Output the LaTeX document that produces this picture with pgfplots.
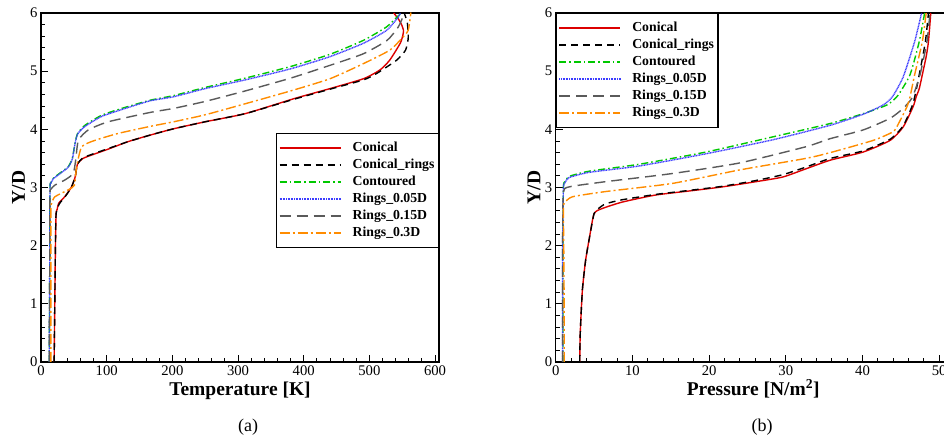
\documentclass[border=0pt]{standalone}
\usepackage{fontspec}
\setmainfont{Liberation Serif}
\usepackage{pgfplots}
\pgfplotsset{compat=1.18}
\definecolor{cred}{RGB}{220,0,0}
\definecolor{cgreen}{RGB}{0,200,0}
\definecolor{cblue}{RGB}{60,60,255}
\definecolor{cgray}{RGB}{90,90,90}
\definecolor{corange}{RGB}{255,140,0}
\pgfplotsset{
  myaxis/.style={
    scale only axis, height=349pt,
    ymin=0, ymax=6, ytick={0,1,...,6}, minor y tick num=4,
    tick align=inside, tick pos=left,
    major tick length=7pt, minor tick length=4pt,
    axis line style={line width=1.2pt},
    every tick/.style={black, line width=0.9pt},
    tick label style={font=\fontsize{14.7}{16}\selectfont},
    /pgf/number format/assume math mode=true,
    label style={font=\fontsize{19.5}{22}\selectfont\bfseries},
    ylabel={Y/D},
    xlabel style={at={(axis description cs:0.5,-0.0974)}, anchor=base},
    legend cell align=left,
    legend image code/.code={\draw[##1, line width=2pt] (0pt,0pt) -- (61pt,0pt);},
    legend style={draw=black, line width=1.2pt, fill=white,
      font=\fontsize{13.75}{16}\selectfont\bfseries,
      inner xsep=2pt, inner ysep=6pt, row sep=0pt,
      nodes={inner sep=2pt, text height=10pt, text depth=3pt},
      /tikz/every odd column/.append style={column sep=9pt}},
    every axis plot/.append style={smooth, tension=0.35},
  },
  sConical/.style={cred, line width=1.4pt, solid},
  sConRings/.style={black, line width=1.4pt, dash pattern=on 7pt off 5pt},
  sContoured/.style={cgreen, line width=1.4pt, dash pattern=on 7pt off 3pt on 1.5pt off 3pt},
  sR05/.style={cblue, line width=1.4pt, dash pattern=on 1pt off 0.6pt},
  sR15/.style={cgray, line width=1.4pt, dash pattern=on 11pt off 6pt},
  sR3/.style={corange, line width=1.4pt, dash pattern=on 10pt off 3pt on 2pt off 3pt},
}
\begin{document}
\begin{tikzpicture}[x=1pt,y=1pt]
\useasboundingbox (0,0) rectangle (944,441);
\begin{axis}[myaxis, at={(41pt,79pt)}, anchor=south west, width=398pt,
  xmin=0, xmax=606, xtick={0,100,...,600}, minor x tick num=4,
  xlabel={Temperature [K]},
  ylabel style={at={(axis description cs:-0.0402,0.5)}, anchor=base},
  legend style={at={(1,0.657)}, anchor=north east}]
\addplot[sConical] coordinates {(20,0) (21,1.0) (22,2.0) (23,2.55) (24.5,2.62) (27,2.73) (36,2.84) (46,3.0) (52,3.18) (55.5,3.40) (64,3.50) (80,3.57) (100,3.65) (133,3.79) (166,3.90) (202,4.01) (250,4.13) (311,4.27) (386,4.53) (440,4.70) (491,4.87) (516,5.02) (531,5.19) (547,5.48) (551,5.62) (552,5.70) (549,5.80) (544,5.90) (537,6.0)};
\addlegendentry{Conical}
\addplot[sConRings] coordinates {(20,0) (21,1.0) (22,2.0) (23,2.55) (28,2.72) (36,2.83) (46,3.0) (52,3.18) (55.5,3.40) (64,3.51) (80,3.58) (100,3.66) (133,3.79) (166,3.90) (202,4.01) (250,4.13) (311,4.27) (386,4.52) (440,4.69) (491,4.85) (511,4.96) (541.6,5.19) (555,5.36) (559,5.55) (559,5.65) (557.7,5.84) (553,6.0)};
\addlegendentry{Conical\_rings}
\addplot[sContoured] coordinates {(12.5,0) (13,1) (13.5,2) (13.7,3.0) (15,3.08) (18.8,3.16) (31.5,3.27) (41.6,3.36) (47.7,3.50) (51.8,3.76) (55.8,3.93) (67,4.07) (92,4.24) (123,4.36) (166,4.50) (202,4.58) (250,4.72) (311,4.88) (380,5.08) (440,5.29) (491,5.53) (526,5.76) (542,5.93) (549,6.0)};
\addlegendentry{Contoured}
\addplot[sR05] coordinates {(12.5,0) (13,1) (13.5,2) (13.7,3.0) (15,3.07) (18.8,3.15) (31.5,3.26) (41.6,3.35) (47.7,3.49) (51.8,3.75) (55.8,3.92) (67,4.05) (92,4.22) (123,4.34) (166,4.49) (202,4.56) (250,4.70) (311,4.85) (380,5.04) (440,5.25) (491,5.48) (526,5.70) (544,5.93) (547,6.0)};
\addlegendentry{Rings\_0.05D}
\addplot[sR15] coordinates {(12.5,0) (13,1) (13.5,2) (13.7,2.9) (15,2.97) (21,3.04) (36.5,3.13) (49,3.24) (52.8,3.47) (56.9,3.81) (72,3.99) (102.5,4.13) (166,4.29) (202,4.36) (250,4.48) (311,4.66) (380,4.88) (440,5.10) (491,5.30) (527,5.53) (544,5.76) (552,5.96) (553,6.0)};
\addlegendentry{Rings\_0.15D}
\addplot[sR3] coordinates {(15,0) (15,1) (15,2) (15,2.65) (16,2.72) (21,2.84) (41.6,2.96) (50.8,3.04) (54.3,3.36) (62,3.70) (82,3.81) (117.7,3.93) (166,4.05) (202,4.13) (250,4.25) (311,4.44) (380,4.66) (440,4.87) (491,5.13) (531,5.36) (549,5.56) (559,5.70) (563,5.99) (563,6.0)};
\addlegendentry{Rings\_0.3D}
\end{axis}
\begin{axis}[myaxis, at={(555.7pt,79pt)}, anchor=south west, width=395pt,
  xmin=0, xmax=51.5, xtick={0,10,...,50}, minor x tick num=4,
  xlabel={Pressure [N/m\textsuperscript{2}]},
  ylabel style={at={(axis description cs:-0.039,0.5)}, anchor=base},
  legend style={at={(0,1)}, anchor=north west}]
\addplot[sConical] coordinates {(3.13,0) (3.2,0.5) (3.48,1.24) (3.9,1.75) (4.35,2.1) (5,2.55) (6.1,2.64) (8.7,2.75) (13,2.87) (17.4,2.94) (21.7,3.01) (26.1,3.1) (29.6,3.18) (32.6,3.32) (35.8,3.47) (40.1,3.61) (43.6,3.81) (45.3,4.04) (46.6,4.39) (47.0,4.56) (47.4,4.70) (47.8,4.94) (48.3,5.25) (48.6,5.51) (48.9,6.0)};
\addlegendentry{Conical}
\addplot[sConRings] coordinates {(3.13,0) (3.2,0.5) (3.48,1.24) (3.9,1.75) (4.35,2.1) (5,2.55) (5.6,2.64) (6.5,2.72) (8.7,2.79) (13,2.88) (17.4,2.95) (21.7,3.02) (26.1,3.12) (29.6,3.22) (32.6,3.35) (35.8,3.50) (40.1,3.63) (43.6,3.83) (45.3,4.06) (46.6,4.45) (47.4,4.94) (48.2,5.51) (48.6,6.0)};
\addlegendentry{Conical\_rings}
\addplot[sContoured] coordinates {(0.95,0) (0.95,1) (0.95,2) (1.0,3.0) (1.2,3.1) (1.74,3.19) (4.35,3.28) (10.9,3.40) (19.6,3.61) (28.3,3.87) (35.8,4.10) (40.1,4.27) (43.2,4.42) (44.6,4.58) (46.2,4.94) (47.4,5.51) (48.1,6.0)};
\addlegendentry{Contoured}
\addplot[sR05] coordinates {(0.9,0) (0.9,1) (0.9,2) (1.0,2.98) (1.2,3.08) (1.74,3.17) (4.35,3.26) (10.9,3.37) (19.6,3.58) (28.3,3.82) (35.8,4.07) (40.1,4.26) (42.7,4.42) (43.9,4.56) (45.3,4.90) (46.8,5.51) (47.7,6.0)};
\addlegendentry{Rings\_0.05D}
\addplot[sR15] coordinates {(0.9,0) (0.9,1) (0.9,2) (1.0,2.9) (1.74,3.01) (6.5,3.1) (15.2,3.24) (23.9,3.42) (32.6,3.70) (35.8,3.84) (40.1,3.99) (43.6,4.19) (45.3,4.36) (46.5,4.55) (47.5,4.94) (48.4,5.51) (48.8,6.0)};
\addlegendentry{Rings\_0.15D}
\addplot[sR3] coordinates {(1.12,0) (1.1,1) (1.05,2) (1.0,2.65) (1.2,2.74) (2.17,2.84) (6.5,2.93) (15.2,3.07) (23.9,3.3) (32.6,3.5) (35.8,3.60) (41.4,3.81) (44.0,3.96) (44.7,4.10) (45.8,4.39) (46.2,4.56) (46.8,4.94) (47.8,5.51) (48.3,6.0)};
\addlegendentry{Rings\_0.3D}
\end{axis}
\node[font=\fontsize{18}{20}\selectfont, anchor=base] at (248,9) {(a)};
\node[font=\fontsize{18}{20}\selectfont, anchor=base] at (762,9) {(b)};
\end{tikzpicture}
\end{document}
